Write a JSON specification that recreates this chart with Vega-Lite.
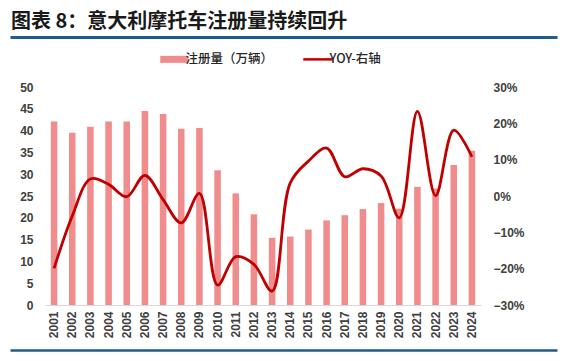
{
  "$schema": "https://vega.github.io/schema/vega-lite/v6.json",
  "width": 436,
  "height": 218,
  "autosize": {"type": "none"},
  "padding": {"left": 45, "top": 87, "right": 86, "bottom": 56},
  "background": "white",
  "title": {
    "text": "图表 8：意大利摩托车注册量持续回升",
    "font": "Noto Sans CJK SC",
    "fontSize": 20,
    "fontWeight": "bold",
    "color": "#1a1a1a",
    "anchor": "start",
    "frame": "group",
    "dx": -34,
    "offset": 5
  },
  "config": {
    "view": {"stroke": null},
    "axis": {"grid": false, "ticks": false, "domain": false, "labelFont": "Liberation Sans", "labelFontSize": 12, "labelFontWeight": "bold", "labelColor": "#404040", "title": null}
  },
  "data": {"values": [
    {"year": "2001", "reg": 42.1, "yoy": -0.199},
    {"year": "2002", "reg": 39.5, "yoy": -0.055},
    {"year": "2003", "reg": 40.9, "yoy": 0.047},
    {"year": "2004", "reg": 42.1, "yoy": 0.032},
    {"year": "2005", "reg": 42.1, "yoy": -0.002},
    {"year": "2006", "reg": 44.5, "yoy": 0.057},
    {"year": "2007", "reg": 43.8, "yoy": -0.010},
    {"year": "2008", "reg": 40.4, "yoy": -0.074},
    {"year": "2009", "reg": 40.6, "yoy": 0.007},
    {"year": "2010", "reg": 30.9, "yoy": -0.245},
    {"year": "2011", "reg": 25.6, "yoy": -0.167},
    {"year": "2012", "reg": 20.8, "yoy": -0.188},
    {"year": "2013", "reg": 15.4, "yoy": -0.262},
    {"year": "2014", "reg": 15.7, "yoy": 0.036},
    {"year": "2015", "reg": 17.3, "yoy": 0.096},
    {"year": "2016", "reg": 19.4, "yoy": 0.132},
    {"year": "2017", "reg": 20.6, "yoy": 0.053},
    {"year": "2018", "reg": 22.0, "yoy": 0.075},
    {"year": "2019", "reg": 23.4, "yoy": 0.055},
    {"year": "2020", "reg": 22.1, "yoy": -0.060},
    {"year": "2021", "reg": 27.1, "yoy": 0.233},
    {"year": "2022", "reg": 26.7, "yoy": 0.001},
    {"year": "2023", "reg": 32.1, "yoy": 0.181},
    {"year": "2024", "reg": 35.4, "yoy": 0.108}
  ]},
  "layer": [
    {
      "mark": {"type": "bar", "width": {"band": 0.36}},
      "encoding": {
        "x": {"field": "year", "type": "nominal", "sort": null,
              "scale": {"paddingInner": 0, "paddingOuter": 0},
              "axis": {"labelAngle": 270, "labelPadding": 6, "domain": true, "domainColor": "#d9d9d9", "domainWidth": 1}},
        "y": {"field": "reg", "type": "quantitative",
              "scale": {"domain": [0, 50], "nice": false},
              "axis": {"values": [0, 5, 10, 15, 20, 25, 30, 35, 40, 45, 50], "labelPadding": 12}},
        "color": {"datum": "注册量（万辆）", "type": "nominal",
          "scale": {"domain": ["注册量（万辆）", "YOY-右轴"], "range": ["#F08C8C", "#C00000"]},
          "legend": {
            "orient": "none", "direction": "horizontal", "legendX": 123, "legendY": -34,
            "title": null, "labelFont": "Noto Sans CJK SC", "labelFontSize": 12.5, "labelFontWeight": 500, "labelColor": "#262626",
            "labelOffset": 5, "columnPadding": 24,
            "encode": {"symbols": {"update": {
              "shape": {"signal": "datum.value === 'YOY-右轴' ? 'stroke' : 'M-1,-0.25H1V0.25H-1Z'"},
              "size": {"signal": "datum.value === 'YOY-右轴' ? 900 : 784"},
              "fill": {"signal": "datum.value === 'YOY-右轴' ? 'transparent' : '#F08C8C'"},
              "stroke": {"signal": "datum.value === 'YOY-右轴' ? '#C00000' : 'transparent'"},
              "strokeWidth": {"signal": "datum.value === 'YOY-右轴' ? 2.5 : 0"},
              "opacity": {"value": 1}
            }}}
          }}
      }
    },
    {
      "mark": {"type": "line", "interpolate": "catmull-rom", "strokeWidth": 2.8},
      "encoding": {
        "x": {"field": "year", "type": "nominal", "sort": null,
              "scale": {"paddingInner": 0, "paddingOuter": 0}, "axis": null},
        "y": {"field": "yoy", "type": "quantitative",
              "scale": {"domain": [-0.3, 0.3], "nice": false},
              "axis": {"orient": "right", "format": ".0%", "values": [-0.3, -0.2, -0.1, 0, 0.1, 0.2, 0.3], "labelPadding": 12}},
        "color": {"datum": "YOY-右轴", "type": "nominal"}
      }
    },
    {
      "mark": {"type": "point", "opacity": 0},
      "encoding": {
        "x": {"datum": 0, "type": "quantitative",
              "scale": {"domain": [0, 1], "range": [-35, 512]},
              "axis": {"orient": "top", "offset": 50, "labels": false, "domain": true, "domainColor": "#1F5C8B", "domainWidth": 3}}
      }
    },
    {
      "mark": {"type": "point", "opacity": 0},
      "encoding": {
        "x": {"datum": 0, "type": "quantitative",
              "scale": {"domain": [0, 1], "range": [-35, 512]},
              "axis": {"orient": "bottom", "offset": 45, "labels": false, "domain": true, "domainColor": "#1F5C8B", "domainWidth": 2.5}}
      }
    }
  ],
  "resolve": {"scale": {"x": "independent", "y": "independent"}, "axis": {"x": "independent", "y": "independent"}}
}
